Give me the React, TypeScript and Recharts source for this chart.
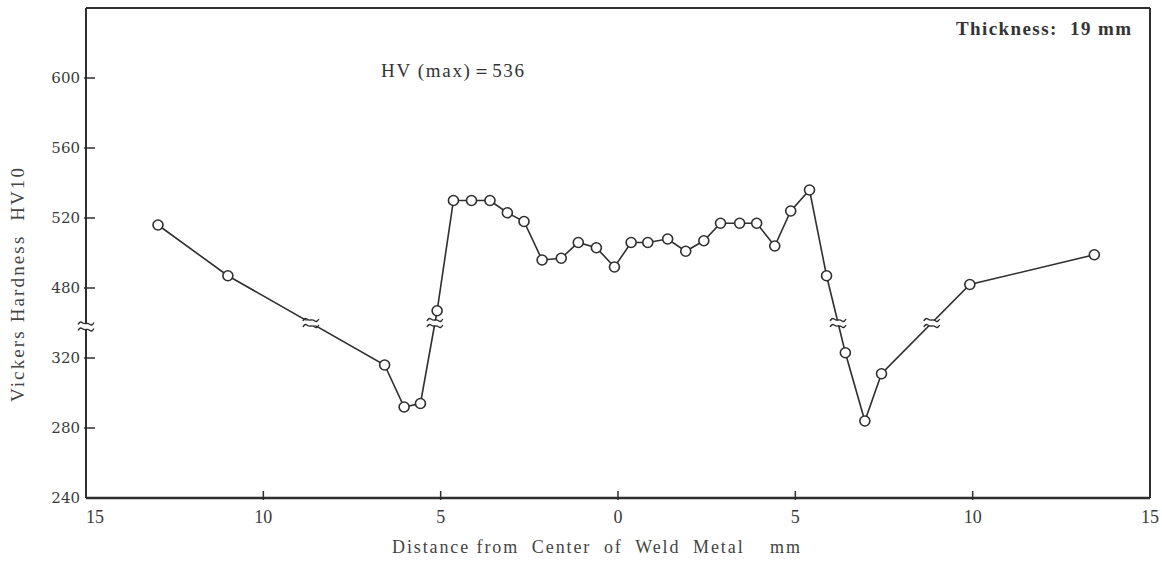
import {
  ComposedChart,
  Line,
  ReferenceDot,
  ReferenceLine,
  Scatter,
  XAxis,
  YAxis,
} from 'recharts'

// distance from weld centre, mm (left side negative)
const distance = [
  -12.97, -11.0, -6.58, -6.03, -5.57, -5.1, -4.64, -4.13, -3.61, -3.12, -2.65,
  -2.14, -1.6, -1.12, -0.61, -0.1, 0.37, 0.84, 1.4, 1.91, 2.42, 2.89, 3.43,
  3.91, 4.42, 4.87, 5.4, 5.88, 6.41, 6.96, 7.43, 9.92, 13.43,
]
// Vickers hardness HV10
const hardness = [
  516, 487, 316, 292, 294, 467, 530, 530, 530, 523, 518, 496, 497, 506, 503,
  492, 506, 506, 508, 501, 507, 517, 517, 517, 504, 524, 536, 487, 323, 284,
  311, 482, 499,
]
const yTickLabels = [240, 280, 320, 480, 520, 560, 600]
const xTickLabels = [-15, -10, -5, 0, 5, 10, 15]

const INK = '#2f2f2f'
const FONT = '"Liberation Serif", "DejaVu Serif", serif'

// broken y axis: 320 → 480 squeezed into one tick step
const BREAK_AT = 340
const SHIFT = 120
const toPlot = (hv: number) => (hv >= 400 ? hv - SHIFT : hv)
const fromPlot = (t: number) => (t > BREAK_AT ? t + SHIFT : t)

const data = distance.map((x, i) => ({ x, t: toPlot(hardness[i]) }))

// mark the segments that cross the axis break
const breakMarks: { x: number; t: number }[] = []
for (let i = 1; i < data.length; i++) {
  const a = data[i - 1]
  const b = data[i]
  if ((a.t - BREAK_AT) * (b.t - BREAK_AT) < 0) {
    const f = (BREAK_AT - a.t) / (b.t - a.t)
    breakMarks.push({ x: a.x + f * (b.x - a.x), t: BREAK_AT })
  }
}

const BreakMark = (props: any) => {
  const { cx, cy } = props
  if (cx == null || cy == null) return null
  const wave = (y: number) =>
    `M${cx - 8},${y + 1} q2,-3.5 4,-2 t4,1 t4,1 t4,-2`
  return (
    <g>
      <rect x={cx - 8} y={cy - 2.5} width={16} height={5} fill="#fff" />
      <path d={wave(cy - 3)} stroke={INK} strokeWidth={1.4} fill="none" />
      <path d={wave(cy + 3)} stroke={INK} strokeWidth={1.4} fill="none" />
    </g>
  )
}

const YTick = (props: any) => {
  const { x, y, payload } = props
  const v = payload.value
  return (
    <g>
      {v !== 240 && (
        <line x1={x} y1={y} x2={x + 11} y2={y} stroke={INK} strokeWidth={1.5} />
      )}
      <text
        x={x - 4}
        y={y + 5}
        textAnchor="end"
        fontFamily='"DejaVu Serif", serif'
        fontSize={15}
        fill="#3a3a3a"
      >
        {fromPlot(v)}
      </text>
    </g>
  )
}

const XTick = (props: any) => {
  const { x, y, payload } = props
  const v = payload.value
  return (
    <g>
      {Math.abs(v) !== 15 && (
        <line x1={x} y1={y} x2={x} y2={y - 9} stroke={INK} strokeWidth={1.5} />
      )}
      <text
        x={x + (v === -15 ? 9 : 0)}
        y={y + 23}
        textAnchor="middle"
        fontFamily={FONT}
        fontSize={18}
        fill="#3a3a3a"
      >
        {Math.abs(v)}
      </text>
    </g>
  )
}

export default function App() {
  return (
    <div
      style={{
        position: 'absolute',
        left: 0,
        top: 0,
        width: 1162,
        height: 561,
        background: '#fff',
      }}
    >
      <ComposedChart
        width={1162}
        height={561}
        data={data}
        margin={{ top: 8, right: 12, bottom: 43, left: 0 }}
      >
        <XAxis
          type="number"
          dataKey="x"
          domain={[-15, 15]}
          ticks={xTickLabels}
          height={20}
          tickSize={0}
          tickLine={false}
          axisLine={{ stroke: INK, strokeWidth: 2.5 }}
          tick={<XTick />}
        />
        <YAxis
          type="number"
          dataKey="t"
          domain={[240, 520]}
          ticks={yTickLabels.map(toPlot)}
          width={86}
          tickSize={0}
          tickLine={false}
          axisLine={{ stroke: INK, strokeWidth: 2 }}
          tick={<YTick />}
        />
        <ReferenceLine y={520} stroke={INK} strokeWidth={2} />
        <ReferenceLine x={15} stroke={INK} strokeWidth={2} />
        <ReferenceDot
          x={-15}
          y={338}
          r={0}
          shape={<BreakMark />}
          ifOverflow="visible"
        />
        <Line
          dataKey="t"
          stroke={INK}
          strokeWidth={1.6}
          dot={{ r: 5, fill: '#fff', stroke: INK, strokeWidth: 1.6 }}
          isAnimationActive={false}
        />
        <Scatter
          data={breakMarks}
          dataKey="t"
          shape={<BreakMark />}
          isAnimationActive={false}
        />
      </ComposedChart>
      <svg
        width={1162}
        height={561}
        style={{ position: 'absolute', left: 0, top: 0, pointerEvents: 'none' }}
      >
        <text
          x={18}
          y={285}
          transform="rotate(-90 18 285)"
          dy={6}
          textAnchor="middle"
          fontFamily={FONT}
          fontSize={19}
          fill="#444"
          textLength={234}
          lengthAdjust="spacing"
          xmlSpace="preserve"
        >
          Vickers Hardness  HV10
        </text>
        <text
          x={596}
          y={553}
          textAnchor="middle"
          fontFamily={FONT}
          fontSize={18}
          fill="#444"
          textLength={408}
          lengthAdjust="spacing"
          xmlSpace="preserve"
        >
          Distance from  Center  of  Weld  Metal    mm
        </text>
        <text
          x={381}
          y={77}
          fontFamily={FONT}
          fontSize={19}
          fill="#333"
          textLength={143}
          lengthAdjust="spacing"
        >
          HV (max)＝536
        </text>
        <text
          x={956}
          y={35}
          fontFamily={FONT}
          fontSize={19}
          fontWeight="bold"
          fill="#333"
          textLength={175}
          lengthAdjust="spacing"
          xmlSpace="preserve"
        >
          Thickness:  19 mm
        </text>
      </svg>
    </div>
  )
}
